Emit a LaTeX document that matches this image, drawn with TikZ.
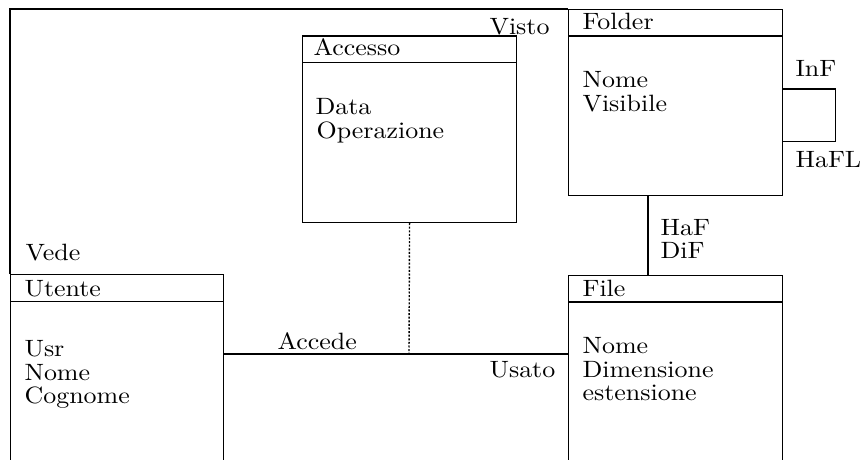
\documentclass[tikz,border=0pt]{standalone}
\usepackage{fontspec}
\setmainfont{lmroman10-regular}[Extension=.otf, FakeStretch=1.1]
\begin{document}
\begin{tikzpicture}[x=0.5pt, y=-0.5pt,
  line width=0.55pt,
  ent/.style={draw, line width=0.55pt, inner sep=0, anchor=north west, minimum width=107pt},
  lbl/.style={anchor=base west, inner sep=0, font=\fontsize{11.8}{11.8}\selectfont}]
\clip (0,0) rectangle (863,460);
\fill[white] (0,0) rectangle (863,460);
% entity boxes
\node[ent, minimum width=106.5pt, minimum height=103pt] (utente) at (10,274) {};
\node[ent, minimum height=93.25pt] (accesso) at (302,35.5) {};
\node[ent, minimum height=93pt] (folder) at (568,9) {};
\node[ent, minimum height=103pt] (file) at (568,274.5) {};
% header separators
\draw ([yshift=-13.75pt]utente.north west) -- ([yshift=-13.75pt]utente.north east);
\draw ([yshift=-13.5pt]accesso.north west) -- ([yshift=-13.5pt]accesso.north east);
\draw ([yshift=-13.5pt]folder.north west) -- ([yshift=-13.5pt]folder.north east);
\draw ([yshift=-13.75pt]file.north west) -- ([yshift=-13.75pt]file.north east);
% connectors
\draw (utente.north west) |- (folder.north west);
\coordinate (acc) at (409,354);
\draw (utente.east |- acc) -- (file.west |- acc);
\draw[line width=0.7pt, dash pattern=on 1pt off 0.8pt] (accesso.south) -- (acc);
\draw ([xshift=40pt]folder.south west) -- ([xshift=40pt]file.north west);
\draw ([yshift=-40pt]folder.north east) -| ([xshift=26pt,yshift=-66.25pt]folder.north east) -- ([yshift=-66.25pt]folder.north east);
% titles
\node[lbl] (tUtente) at (24,296) {Utente};
\node[lbl] (tAccesso) at (313,56) {Accesso};
\node[lbl] (tFolder) at (582,30) {Folder};
\node[lbl] (tFile) at (582,296) {File};
% attributes
\node[lbl] (uUsr) at (24,356) {Usr};
\node[lbl] (uNome) at (24,380) {Nome};
\node[lbl] (uCognome) at (24,403) {Cognome};
\node[lbl] (aData) at (315,115) {Data};
\node[lbl] (aOper) at (316,139) {Operazione};
\node[lbl] (foNome) at (582,88) {Nome};
\node[lbl] (foVis) at (582,112) {Visibile};
\node[lbl] (fiNome) at (582,353) {Nome};
\node[lbl] (fiDim) at (582,377) {Dimensione};
\node[lbl] (fiEst) at (582,400) {estensione};
% relationship labels
\node[lbl] (lVede) at (25,261) {Vede};
\node[lbl] (lVisto) at (489,35) {Visto};
\node[lbl] (lInF) at (795,77) {InF};
\node[lbl] (lHaFL) at (795,168) {HaFL};
\node[lbl] (lHaF) at (660,235) {HaF};
\node[lbl] (lDiF) at (660,258) {DiF};
\node[lbl] (lAccede) at (277,350) {Accede};
\node[lbl] (lUsato) at (489,377) {Usato};
\end{tikzpicture}
\end{document}
